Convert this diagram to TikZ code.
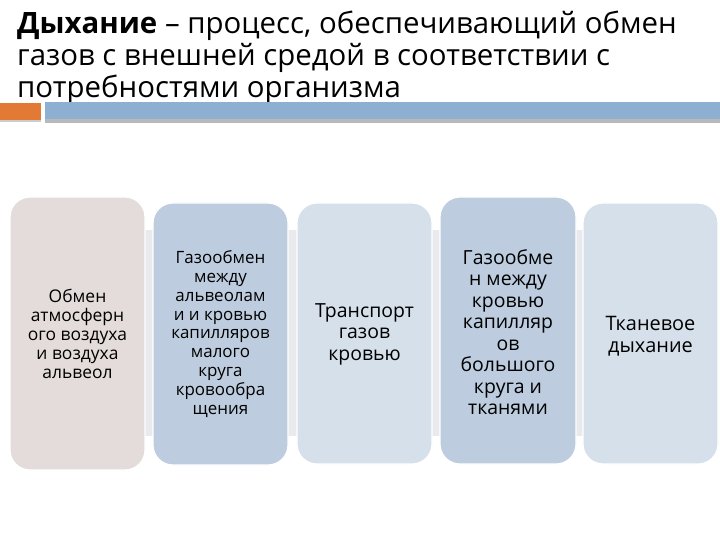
\documentclass[tikz,border=0pt]{standalone}
\usepackage{fontspec}
\setmainfont{Open Sans}
\definecolor{barblue}{HTML}{8DB0D2}
\definecolor{barorange}{HTML}{E27A35}
\definecolor{boxA}{HTML}{E4DCDA}
\definecolor{boxB}{HTML}{BDCCDE}
\definecolor{boxC}{HTML}{D5E0EA}
\definecolor{bandgray}{HTML}{E9EAEE}
\tikzset{
  stagebox/.style={draw=white, line width=1.2pt, rounded corners=20bp},
  boxtext/.style={align=center, text=black, inner sep=0pt}
}
\begin{document}
\begin{tikzpicture}[x=1bp,y=-1bp]
\useasboundingbox (0,0) rectangle (720,540);
\fill[white] (0,0) rectangle (720,540);
% title
\node[anchor=north west, align=left, inner sep=0pt, font=\fontsize{29.5}{32}\selectfont] (title) at (17,11)
  {\textbf{Дыхание} – процесс, обеспечивающий обмен\\газов с внешней средой в соответствии с\\потребностями организма};
% bar
\fill[gray!55] (45,119) rectangle (720,123);
\fill[barblue] (45,102) rectangle (720,119);
\fill[barorange] (0,103) rectangle (41,120);
\fill[gray!40] (0,120) rectangle (41,122);
% background band
\fill[bandgray] (10,230) rectangle (718,436);
% boxes
\draw[stagebox, fill=boxA] (10,197) rectangle (145,470);
\draw[stagebox, fill=boxB] (153,203) rectangle (288,465);
\draw[stagebox, fill=boxC] (297,203) rectangle (432,464);
\draw[stagebox, fill=boxB] (440,197) rectangle (576,464);
\draw[stagebox, fill=boxC] (583,203) rectangle (718,464);
\node[boxtext, font=\fontsize{17.5}{19.2}\selectfont] (t1) at (77.5,334)
  {Обмен\\атмосферн\\ого воздуха\\и воздуха\\альвеол};
\node[boxtext, font=\fontsize{17}{19}\selectfont] (t2) at (220.5,334)
  {Газообмен\\между\\альвеолам\\и и кровью\\капилляров\\малого\\круга\\кровообра\\щения};
\node[boxtext, font=\fontsize{19.5}{21.5}\selectfont] (t3) at (364.5,334)
  {Транспорт\\газов\\кровью};
\node[boxtext, font=\fontsize{19.5}{21.6}\selectfont] (t4) at (508,332)
  {Газообме\\н между\\кровью\\капилляр\\ов\\большого\\круга и\\тканями};
\node[boxtext, font=\fontsize{20}{21.7}\selectfont] (t5) at (650.5,336)
  {Тканевое\\дыхание};
\end{tikzpicture}
\end{document}
